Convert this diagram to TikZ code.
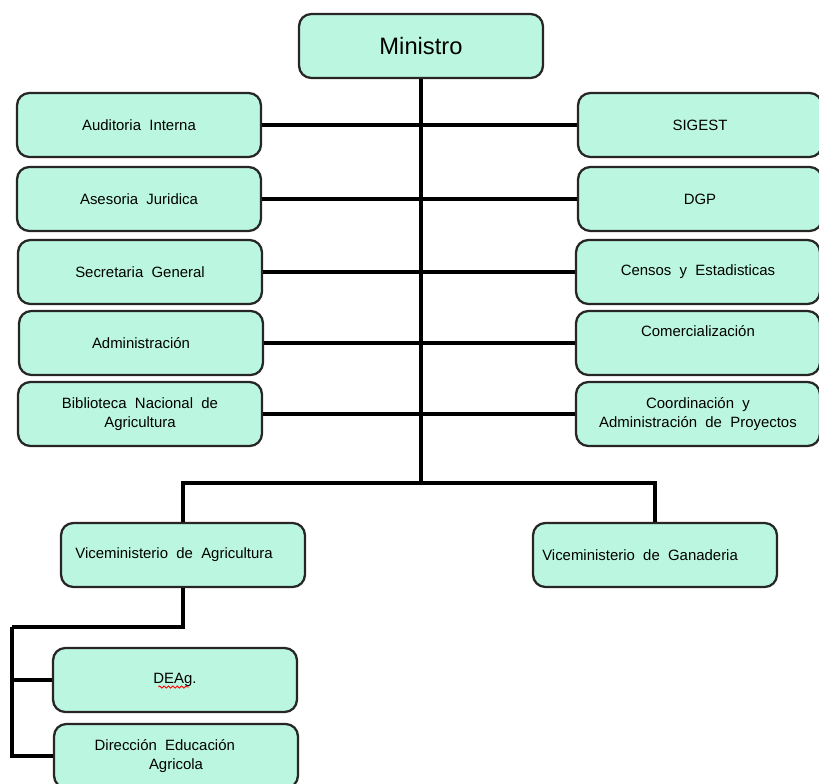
\documentclass[tikz,border=0pt]{standalone}
\usepackage{fontspec}
\setmainfont{Liberation Sans}
\usepackage{xcolor}
\usetikzlibrary{decorations.pathmorphing}

\definecolor{mint}{RGB}{187,247,224}
\tikzset{
  unitbox/.style={draw=black!85, line width=1.3pt, rounded corners=7pt, fill=mint,
    minimum width=4.88cm, minimum height=1.28cm, align=center, inner sep=2pt,
    font=\fontsize{8.5}{11}\selectfont},
  link/.style={line width=2.8pt, black}
}

\begin{document}
\begin{tikzpicture}[x=0.02cm, y=-0.02cm]
    \useasboundingbox (0,0) rectangle (819,784);
    \clip (0,0) rectangle (819,784);

    % Minister
    \node[unitbox, font=\fontsize{13.5}{15}\selectfont] (min) at (421, 46) {Ministro};

    % Left column
    \node[unitbox] (aud) at (139, 125) {Auditoria\ \ Interna};
    \node[unitbox] (ase) at (139, 199) {Asesoria\ \ Juridica};
    \node[unitbox] (sec) at (140, 272) {Secretaria\ \ General};
    \node[unitbox] (adm) at (141, 343) {Administración};
    \node[unitbox] (bib) at (140, 414) {Biblioteca\ \ Nacional\ \ de\\Agricultura};

    % Right column
    \node[unitbox] (sig) at (700, 125) {SIGEST};
    \node[unitbox] (dgp) at (700, 199) {DGP};
    \node[unitbox] (cen) at (698, 272) {Censos\ \ y\ \ Estadisticas};
    \node[unitbox] (com) at (698, 343) {Comercialización\\[3pt]};
    \node[unitbox] (coo) at (698, 414) {Coordinación\ \ y\\Administración\ \ de\ \ Proyectos};

    % Vice ministries
    \node[unitbox] (vag) at (183, 555) {Viceministerio\ \ de\ \ Agricultura\hspace*{1.2em}};
    \node[unitbox] (vga) at (655, 555) {Viceministerio\ \ de\ \ Ganaderia\hspace*{2em}};

    % Under Agricultura
    \node[unitbox] (dea) at (175, 680) {DEAg.};
    \node[unitbox] (dir) at (176, 756) {Dirección\ \ Educación\hspace*{1.5em}\\Agricola};

    % spell-check mark under DEAg.
    \draw[red, line width=0.5pt, decorate, decoration={snake, amplitude=0.6pt, segment length=2.5pt}]
      ([xshift=-9.5pt, yshift=-4pt]dea.center) -- ([xshift=8pt, yshift=-4pt]dea.center);

    % Lines
    \coordinate (split) at (421, 483);
    \coordinate (sub) at (12, 627);
    \draw[link] (min.south) -- (split);
    \draw[link] (aud.east) -- (sig.west);
    \draw[link] (ase.east) -- (dgp.west);
    \draw[link] (sec.east) -- (cen.west);
    \draw[link] (adm.east) -- (com.west);
    \draw[link] (bib.east) -- (coo.west);
    \draw[link] (vag.north) |- (split) -| (vga.north);
    \draw[link] (vag.south) |- (sub);
    \draw[link] (sub) |- (dea.west);
    \draw[link] (sub) |- (dir.west);
  \end{tikzpicture}
\end{document}
